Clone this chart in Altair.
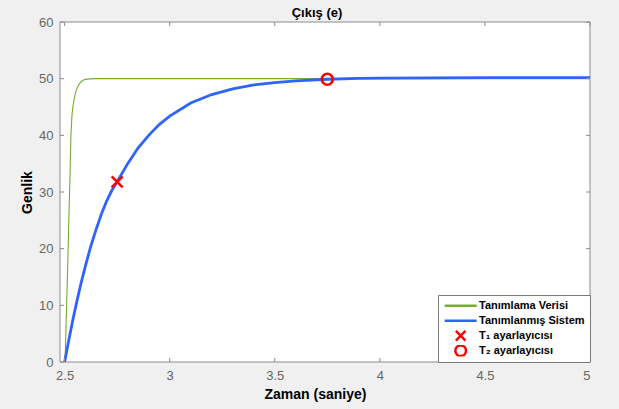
import altair as alt
import pandas as pd

# ---- data ----
green_t = [2.502, 2.505, 2.510, 2.515, 2.520, 2.525, 2.530, 2.535, 2.540, 2.545, 2.550,
           2.555, 2.560, 2.570, 2.580, 2.590, 2.600, 2.620, 2.650, 3.0, 5.0]
green_v = [0.0, 4.2, 10.5, 17.5, 25.0, 32.0, 40.0, 43.6, 45.2, 46.3, 47.2,
           47.9, 48.4, 49.1, 49.5, 49.75, 49.88, 49.97, 50.0, 50.0, 50.0]

blue_t = [2.50, 2.52, 2.54, 2.56, 2.58, 2.60, 2.625, 2.65, 2.675, 2.70, 2.725, 2.75,
          2.80, 2.85, 2.90, 2.95, 3.00, 3.10, 3.20, 3.30, 3.40, 3.50, 3.60, 3.75,
          3.90, 4.00, 4.25, 4.50, 5.00]
blue_v = [0.0, 3.9, 7.6, 11.0, 14.2, 17.1, 20.5, 23.4, 26.1, 28.4, 30.3, 31.8,
          35.0, 37.8, 40.0, 41.9, 43.4, 45.7, 47.2, 48.2, 48.9, 49.3, 49.6, 49.9,
          50.05, 50.1, 50.15, 50.2, 50.2]

t1_t = [2.75]
t1_v = [31.8]
t2_t = [3.75]
t2_v = [49.9]

x_ticks = [2.5, 3, 3.5, 4, 4.5, 5]
y_ticks = [0, 10, 20, 30, 40, 50, 60]

series = ["Tanımlama Verisi", "Tanımlanmış Sistem", "T₁ ayarlayıcısı", "T₂ ayarlayıcısı"]

# ---- styles ----
GREEN = "#77ac30"
BLUE = "#2e64fe"
RED = "#ff0000"
FRAME = "#8c8c8c"
FONT = "Liberation Sans"

LINE_PATH = "M-1,0L5,0"
X_LEG = "M1.1,-0.9L2.9,0.9M1.1,0.9L2.9,-0.9"
O_LEG = "M3,0A1,1,0,1,1,1,0A1,1,0,1,1,3,0Z"
X_PLOT = "M-1,-1L1,1M-1,1L1,-1"

green_df = pd.DataFrame({"t": green_t, "v": green_v})
blue_df = pd.DataFrame({"t": blue_t, "v": blue_v})
t1_df = pd.DataFrame({"t": t1_t, "v": t1_v})
t2_df = pd.DataFrame({"t": t2_t, "v": t2_v})
xt_df = pd.DataFrame({"t": x_ticks})
yt_df = pd.DataFrame({"v": y_ticks})
leg_df = pd.DataFrame({"series": series})
bg_df = pd.DataFrame({"k": [0]})

xs = alt.Scale(domain=[2.478, 5], nice=False, zero=False)
ys = alt.Scale(domain=[0, 60], nice=False, zero=False)
xaxis = alt.Axis(values=x_ticks, format="~g", title="Zaman (saniye)", ticks=False,
                 domain=False, grid=False, labelPadding=7, titlePadding=5, titleX=255)
yaxis = alt.Axis(values=y_ticks, title="Genlik", ticks=False, domain=False, grid=False,
                 labelPadding=7, titlePadding=4)
X = alt.X("t:Q", scale=xs, axis=xaxis)
Y = alt.Y("v:Q", scale=ys, axis=yaxis)

# white plot-area background
plot_bg = alt.Chart(bg_df).mark_rect(fill="#ffffff", fillOpacity=1, opacity=1,
                                     stroke=FRAME, strokeWidth=1).encode(
    x=alt.value(0), x2=alt.value(530), y=alt.value(0), y2=alt.value(340))

green = alt.Chart(green_df).mark_line(color=GREEN, strokeWidth=1.1).encode(x=X, y=Y)
blue = alt.Chart(blue_df).mark_line(color=BLUE, strokeWidth=2.8).encode(x=X, y=Y)
t1 = alt.Chart(t1_df).mark_point(shape=X_PLOT, color=RED, filled=False, size=121,
                                 strokeWidth=2.6, opacity=1).encode(x=X, y=Y)
t2 = alt.Chart(t2_df).mark_point(shape="circle", color=RED, filled=False, size=121,
                                 strokeWidth=2.6, opacity=1).encode(x=X, y=Y)

xt_bottom = alt.Chart(xt_df).mark_rule(color=FRAME, strokeWidth=1).encode(
    x=X, y=alt.value(340), y2=alt.value(336))
xt_top = alt.Chart(xt_df).mark_rule(color=FRAME, strokeWidth=1).encode(
    x=X, y=alt.value(0), y2=alt.value(4))
yt_left = alt.Chart(yt_df).mark_rule(color=FRAME, strokeWidth=1).encode(
    y=Y, x=alt.value(0), x2=alt.value(4))
yt_right = alt.Chart(yt_df).mark_rule(color=FRAME, strokeWidth=1).encode(
    y=Y, x=alt.value(530), x2=alt.value(526))

legend_layer = alt.Chart(leg_df).mark_point(size=0, filled=False, strokeWidth=2.5, opacity=1).encode(
    color=alt.Color("series:N",
                    scale=alt.Scale(domain=series, range=[GREEN, BLUE, RED, RED]),
                    legend=alt.Legend(title=None)),
    shape=alt.Shape("series:N",
                    scale=alt.Scale(domain=series, range=[LINE_PATH, LINE_PATH, X_LEG, O_LEG]),
                    legend=alt.Legend(title=None)),
)

chart = alt.layer(
    plot_bg, green, blue, t1, t2, xt_bottom, xt_top, yt_left, yt_right, legend_layer
).properties(
    width=530,
    height=340,
    padding={"left": 60, "top": 22, "right": 29, "bottom": 47},
    autosize=alt.AutoSizeParams(type="none"),
    background="#f0f0f0",
    title=alt.TitleParams("Çıkış (e)", font=FONT, fontSize=13, fontWeight="bold",
                          color="black", offset=3, dy=7, dx=-8, frame="group"),
).configure_view(
    stroke=None
).configure_axis(
    labelFont=FONT, labelFontSize=13, labelColor="#666666",
    titleFont=FONT, titleFontSize=14, titleFontWeight="bold", titleColor="black",
).configure_legend(
    orient="bottom-right", offset=0, padding=5, fillColor="white", strokeColor="#7a7a7a",
    labelFont=FONT, labelFontSize=11, labelFontWeight="bold", labelColor="black",
    symbolSize=114, symbolStrokeWidth=2.5, rowPadding=2, labelOffset=22, labelLimit=200,
    clipHeight=11.5,
)

chart.save("out.html", embed_options={"renderer": "svg", "actions": False})
